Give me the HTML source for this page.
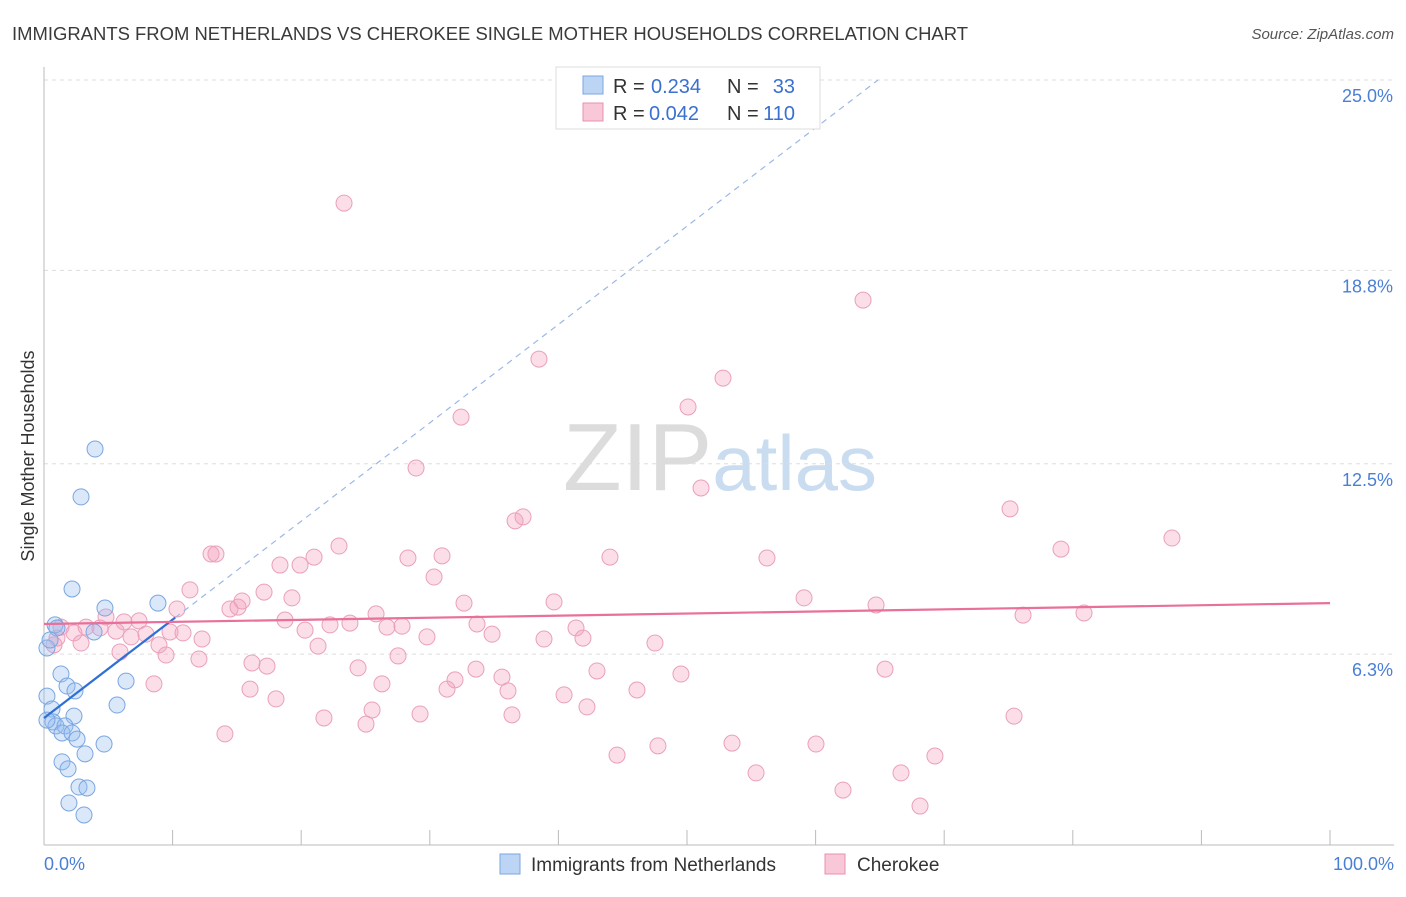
<!DOCTYPE html>
<html><head><meta charset="utf-8">
<style>
body{margin:0;background:#fff;font-family:"Liberation Sans",sans-serif;}
svg text{font-family:"Liberation Sans",sans-serif;}
</style></head><body>
<svg id="chart" width="1406" height="892" viewBox="0 0 1406 892">
<text x="12" y="40" font-size="18" fill="#3a3a3a" textLength="956" lengthAdjust="spacingAndGlyphs">IMMIGRANTS FROM NETHERLANDS VS CHEROKEE SINGLE MOTHER HOUSEHOLDS CORRELATION CHART</text>
<text x="1394" y="39" font-size="15" fill="#555" text-anchor="end" font-style="italic">Source: ZipAtlas.com</text>
<text x="720" y="490" font-size="96" text-anchor="middle" fill="#d8d8d8" font-family="Liberation Serif"><tspan fill="#dcdcdc">ZIP</tspan><tspan fill="#c9dcf0" font-family="Liberation Sans" font-size="78">atlas</tspan></text>
<g id="grid"></g>
<g id="axes"></g>
<g id="marks"></g>
<text transform="translate(34,456) rotate(-90)" font-size="18" fill="#333" text-anchor="middle">Single Mother Households</text>
<g>
<rect x="556" y="67" width="264" height="62" fill="#fff" stroke="#ddd"/>
<rect x="583" y="76" width="20" height="18" fill="#bcd5f5" stroke="#7aa6e0"/>
<text x="613" y="93" font-size="20" fill="#333">R =</text>
<text x="651" y="93" font-size="20" fill="#3a70d0">0.234</text>
<text x="727" y="93" font-size="20" fill="#333">N =</text>
<text x="795" y="93" font-size="20" fill="#3a70d0" text-anchor="end">33</text>
<rect x="583" y="103" width="20" height="18" fill="#f8c8d8" stroke="#e890b0"/>
<text x="613" y="120" font-size="20" fill="#333">R =</text>
<text x="649" y="120" font-size="20" fill="#3a70d0">0.042</text>
<text x="727" y="120" font-size="20" fill="#333">N =</text>
<text x="795" y="120" font-size="20" fill="#3a70d0" text-anchor="end">110</text>
</g>
<g>
<rect x="500" y="854" width="20" height="20" fill="#bcd5f5" stroke="#7aa6e0"/>
<text x="531" y="871" font-size="19" fill="#333">Immigrants from Netherlands</text>
<rect x="825" y="854" width="20" height="20" fill="#f8c8d8" stroke="#e890b0"/>
<text x="857" y="871" font-size="19" fill="#333">Cherokee</text>
</g>
</svg>
<script>
const yTicks=[25.0,18.8,12.5,6.3];
const yTickLabels=["25.0%","18.8%","12.5%","6.3%"];
const xTickLabels=["0.0%","100.0%"];
const blueX=[3.97,2.88,2.18,4.74,8.86,0.86,3.89,0.23,1.32,1.79,2.41,6.38,5.68,0.23,0.62,2.33,0.70,0.93,1.63,1.40,2.18,2.57,4.67,3.19,1.40,1.87,2.72,3.34,1.94,3.11,1.01,0.23,0.47];
const blueY=[12.98,11.42,8.42,7.8,7.96,7.25,7.02,6.5,5.65,5.26,5.1,5.42,4.64,4.93,4.51,4.28,4.09,3.96,3.96,3.73,3.73,3.53,3.37,3.05,2.79,2.56,1.97,1.94,1.45,1.06,7.15,4.15,6.76];
const pinkX=[23.33,63.69,38.49,52.8,50.08,32.43,28.93,51.09,36.63,37.25,75.12,87.71,79.08,12.99,13.37,22.94,21.0,18.35,19.91,28.3,30.95,44.01,56.22,30.33,11.35,17.11,19.28,32.66,39.66,59.1,64.7,80.87,76.13,10.34,14.46,15.09,15.4,25.82,7.39,6.22,18.74,22.24,23.79,26.67,27.84,33.67,41.37,4.82,4.35,3.27,1.32,2.33,1.01,0.78,2.88,5.6,6.77,7.93,9.8,10.81,12.29,20.3,29.78,34.84,38.88,41.91,47.51,21.31,8.94,9.49,5.91,12.05,16.17,17.34,24.42,27.53,33.59,35.61,43.0,49.53,65.4,8.55,16.02,18.04,26.28,31.96,31.34,36.08,40.44,46.11,42.22,25.51,21.77,25.04,29.24,36.39,75.43,14.07,47.74,53.5,60.03,44.56,69.28,55.37,66.64,62.13,68.12];
const pinkY=[20.99,17.83,15.91,15.29,14.35,14.02,12.36,11.71,10.64,10.77,11.03,10.08,9.72,9.56,9.56,9.82,9.46,9.2,9.2,9.43,9.5,9.46,9.43,8.81,8.39,8.32,8.13,7.96,8.0,8.13,7.9,7.64,7.57,7.77,7.77,7.83,8.03,7.61,7.38,7.35,7.41,7.25,7.31,7.18,7.21,7.28,7.15,7.51,7.15,7.18,7.18,6.99,6.82,6.6,6.66,7.05,6.86,6.95,7.02,6.99,6.79,7.08,6.86,6.95,6.79,6.82,6.66,6.56,6.6,6.27,6.37,6.14,6.01,5.91,5.85,6.24,5.81,5.55,5.75,5.65,5.81,5.33,5.16,4.84,5.33,5.46,5.16,5.1,4.97,5.13,4.58,4.48,4.22,4.02,4.35,4.32,4.28,3.7,3.31,3.4,3.37,3.01,2.98,2.43,2.43,1.87,1.35];
const blueTrend=[4.22,0.3204];
const pinkTrend=[7.28,0.0068];
const NS="http://www.w3.org/2000/svg";
const X=v=>44+v*12.86;
const Y=v=>80+(25-v)*30.7;
function mk(tag,attrs,parent){const e=document.createElementNS(NS,tag);for(const k in attrs)e.setAttribute(k,attrs[k]);parent.appendChild(e);return e;}
const grid=document.getElementById('grid'),axes=document.getElementById('axes'),marks=document.getElementById('marks');
yTicks.forEach((t,i)=>{
 const l=mk('line',{x1:44,x2:1394,y1:Y(t),y2:Y(t),stroke:'#ddd','stroke-dasharray':'4,4'},grid);
 
 
 const tx=mk('text',{x:1393,y:Y(t)+22,'font-size':18,fill:'#4a7fd6','text-anchor':'end'},axes);
 tx.textContent=yTickLabels[i];
 
 
});
const ya=mk('line',{x1:44,x2:44,y1:67,y2:845,stroke:'#bbb'},axes);


const xa=mk('line',{x1:44,x2:1394,y1:845,y2:845,stroke:'#bbb'},axes);


for(let i=0;i<=10;i++){
 const t=mk('line',{x1:X(i*10),x2:X(i*10),y1:830,y2:845,stroke:'#bbb'},axes);
 
 
}
[[0,'start',44],[100,'end',1394]].forEach((d,i)=>{
 const tx=mk('text',{x:d[2],y:870,'font-size':18,fill:'#4a7fd6','text-anchor':d[1]},axes);
 tx.textContent=xTickLabels[i];
 
 
});
pinkX.forEach((x,i)=>{
 const c=mk('circle',{cx:X(x),cy:Y(pinkY[i]),r:8,fill:'rgba(244,160,190,0.35)',stroke:'#eaa0bb','stroke-width':1},marks);
 
 
});
blueX.forEach((x,i)=>{
 const c=mk('circle',{cx:X(x),cy:Y(blueY[i]),r:8,fill:'rgba(150,190,240,0.35)',stroke:'#7aa6e0','stroke-width':1},marks);
 
 
});
const bEnd=(25-blueTrend[0])/blueTrend[1];
const bd=mk('line',{x1:X(0),y1:Y(blueTrend[0]),x2:X(bEnd),y2:Y(25),stroke:'#9bb8e6','stroke-width':1.2,'stroke-dasharray':'6,5'},marks);


const bs=mk('line',{x1:X(0),y1:Y(blueTrend[0]),x2:X(10.2),y2:Y(blueTrend[0]+blueTrend[1]*10.2),stroke:'#2f6fd6','stroke-width':2.2},marks);


const pl=mk('line',{x1:X(0),y1:Y(pinkTrend[0]),x2:X(100),y2:Y(pinkTrend[0]+pinkTrend[1]*100),stroke:'#e8709a','stroke-width':2.2},marks);


</script>
</body></html>
